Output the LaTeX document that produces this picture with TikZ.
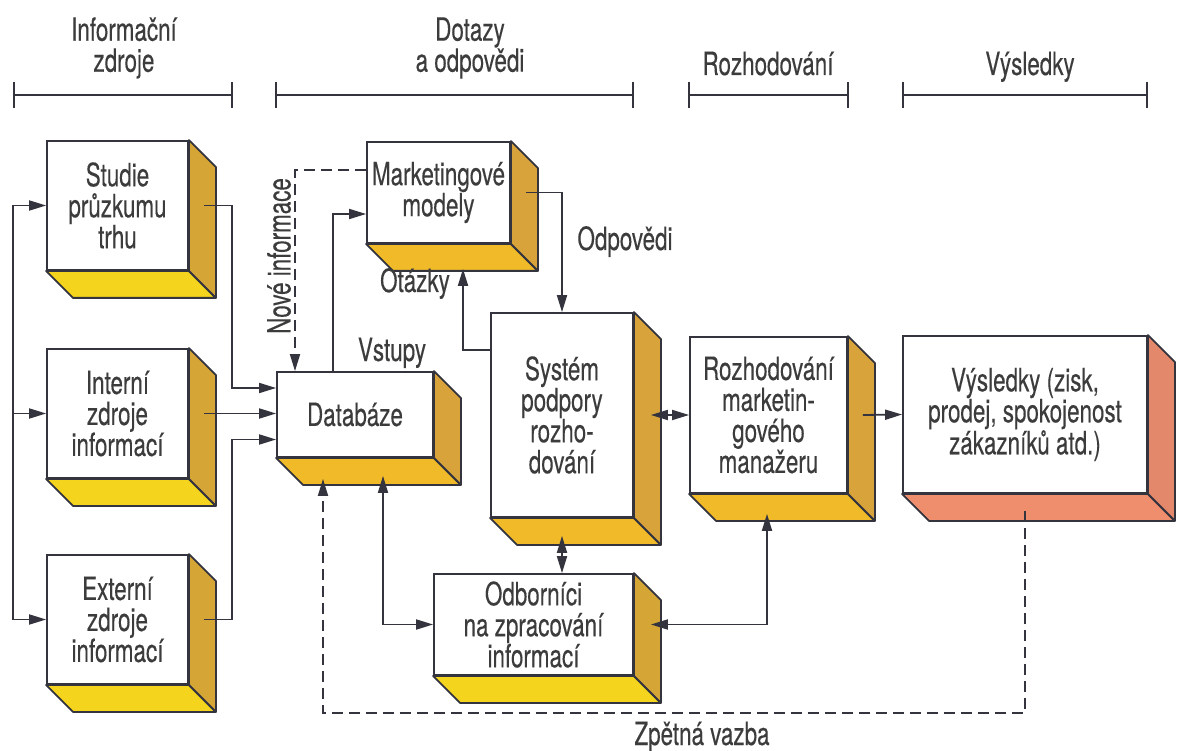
\documentclass[tikz,border=0pt]{standalone}
\usepackage{fontspec}
\setmainfont{TeX Gyre Heros}[FakeStretch=0.70,FakeBold=0.3]
\usetikzlibrary{arrows.meta,calc}

\definecolor{ink}{HTML}{34343E}
\definecolor{txt}{HTML}{3C3C3C}
\definecolor{ylwbot}{HTML}{F4D41C}
\definecolor{ylwside}{HTML}{D5A535}
\definecolor{goldbot}{HTML}{F0BA28}
\definecolor{goldside}{HTML}{D8A33A}
\definecolor{salbot}{HTML}{EE8E6D}
\definecolor{salside}{HTML}{E4886B}

\tikzset{
  boxfont/.style={font=\fontsize{32}{31}\selectfont},
  front/.style={draw=ink, line width=1.8pt, fill=white, inner sep=0pt,
    align=center, text=txt, boxfont},
  facedraw/.style={draw=ink, line width=1.8pt, line join=round},
  link/.style={draw=ink, line width=1.8pt},
  tip/.tip={Triangle[length=17pt,width=10pt]},
  arr/.style={link, -tip},
  darr/.style={link, tip-tip},
  fb/.style={dash pattern=on 11pt off 6pt},
  lbl/.style={text=txt, boxfont, align=center, inner sep=0pt},
  spanline/.style={draw=ink, line width=1.5pt},
}

% bottom and side faces of a box whose front face is node #1
\newcommand\extrude[3]{%
  \path[fill=#2, facedraw] (#1.south west) -- (#1.south east) -- ++(27,27)
    -- ($(#1.south west)+(27,27)$) -- cycle;
  \path[fill=#3, facedraw] (#1.north east) -- ++(27,27)
    -- ($(#1.south east)+(27,27)$) -- (#1.south east) -- cycle;
}
% a span bar with end ticks
\newcommand\spanbar[2]{%
  \draw[spanline] (#1,95) -- (#2,95);
  \draw[spanline] (#1,82) -- (#1,108);
  \draw[spanline] (#2,82) -- (#2,108);
}

\begin{document}
\begin{tikzpicture}[x=1pt,y=-1pt]
\fill[white] (0,0) rectangle (1178,751);
\useasboundingbox (0,0) rectangle (1178,751);

% column headings
\node[lbl] (hinfo) at (124,48) {Informační\\zdroje};
\node[lbl] (hdot) at (470,48) {Dotazy\\a odpovědi};
\node[lbl, anchor=base] (hroz) at (768,75) {Rozhodování};
\node[lbl, anchor=base] (hvys) at (1030,75) {Výsledky};
\spanbar{14}{232}
\spanbar{276}{633}
\spanbar{689}{848}
\spanbar{903}{1147}

% boxes
\node[front, minimum width=141pt, minimum height=129pt] (studie) at (117.5,205.5) {Studie\\průzkumu\\trhu};
\extrude{studie}{ylwbot}{ylwside}
\node[front, minimum width=141pt, minimum height=129pt] (interni) at (117.5,413.5) {Interní\\zdroje\\informací};
\extrude{interni}{ylwbot}{ylwside}
\node[front, minimum width=141pt, minimum height=129pt] (externi) at (117.5,619.5) {Externí\\zdroje\\informací};
\extrude{externi}{ylwbot}{ylwside}

\node[front, minimum width=143pt, minimum height=101pt] (marketing) at (438.5,192.5) {Marketingové\\modely};
\extrude{marketing}{goldbot}{goldside}
\node[front, minimum width=156pt, minimum height=85pt] (databaze) at (355,414.5) {Databáze};
\extrude{databaze}{goldbot}{goldside}
\node[front, minimum width=142pt, minimum height=204pt] (system) at (562,415) {Systém\\podpory\\rozho-\\dování};
\extrude{system}{goldbot}{goldside}
\node[front, minimum width=199pt, minimum height=101pt] (odbornici) at (533.5,624.5) {Odborníci\\na zpracování\\informací};
\extrude{odbornici}{ylwbot}{ylwside}
\node[front, minimum width=157pt, minimum height=156pt] (rozhod) at (768.5,415) {Rozhodování\\marketin-\\gového\\manažeru};
\extrude{rozhod}{goldbot}{goldside}
\node[front, minimum width=244pt, minimum height=157pt] (vysledky) at (1025,414.5) {Výsledky (zisk,\\prodej, spokojenost\\zákazníků atd.)};
\extrude{vysledky}{salbot}{salside}

% helper columns and rows for the connectors
\coordinate (busx) at (13,0);
\coordinate (jx) at (232,0);
\coordinate (nx) at (295,0);
\coordinate (vx) at (333,0);
\coordinate (ex) at (383,0);
\coordinate (qx) at (463,0);
\coordinate (ox) at (767,0);
\coordinate (fx) at (323,0);
\coordinate (fby) at (0,713);

% feed lines into the information sources
\draw[link] (studie.west -| busx) -- (externi.west -| busx);
\draw[arr] (studie.west -| busx) -- (studie.west);
\draw[arr] (interni.west -| busx) -- (interni.west);
\draw[arr] (externi.west -| busx) -- (externi.west);

% sources into the database
\coordinate (dbA) at ([yshift=26.5pt]databaze.west);
\coordinate (dbC) at ([yshift=-25pt]databaze.west);
\draw[arr] ([xshift=15pt]studie.east) -- (jx |- studie.east) -- (jx |- dbA) -- (dbA);
\draw[arr] ([xshift=15pt]interni.east) -- (interni.east -| databaze.west);
\draw[arr] ([xshift=15pt]externi.east) -- (jx |- externi.east) -- (jx |- dbC) -- (dbC);

% new information from the models back to the database
\coordinate (mkA) at ([yshift=22.5pt]marketing.west);
\draw[arr, fb] (mkA) -- (nx |- mkA) -- (nx |- databaze.north);
\node[lbl, rotate=90] (novinf) at (279,256) {Nové informace};

% inputs to the models
\coordinate (mkB) at ([yshift=-21.5pt]marketing.west);
\draw[arr] (vx |- databaze.north) -- (vx |- mkB) -- (mkB);
\node[lbl, anchor=base] (vstupy) at (392,361) {Vstupy};

% answers and questions
\draw[arr] ([xshift=15pt]marketing.east) -| (system.north);
\node[lbl, anchor=base] (odpovedi) at (625,250) {Odpovědi};
\coordinate (sysQ) at ([yshift=65pt]system.west);
\draw[arr] (sysQ) -- (qx |- sysQ) -- ($(qx |- marketing.south)+(0,25)$);
\node[lbl, anchor=base] (otazky) at (415,292) {Otázky};

% decision support links
\draw[darr] ([xshift=17pt]system.east) -- (system.east -| rozhod.west);
\draw[darr] ($(system.south)+(0,18)$) -- (system.south |- odbornici.north);
\draw[darr] ($(ex |- databaze.south)+(0,18)$) -- (ex |- odbornici.west) -- (odbornici.west);
\draw[darr] ([xshift=17pt]odbornici.east) -- (ox |- odbornici.east) -- ($(ox |- rozhod.south)+(0,20)$);
\draw[arr] ([xshift=15pt]rozhod.east) -- (vysledky.west);

% feedback loop
\draw[arr, fb] ($(vysledky.south)+(0,17)$) -- (vysledky.south |- fby) -- (fx |- fby)
  -- ($(fx |- databaze.south)+(0,21)$);
\node[lbl, anchor=base] (zpet) at (702,745) {Zpětná vazba};
\end{tikzpicture}
\end{document}
